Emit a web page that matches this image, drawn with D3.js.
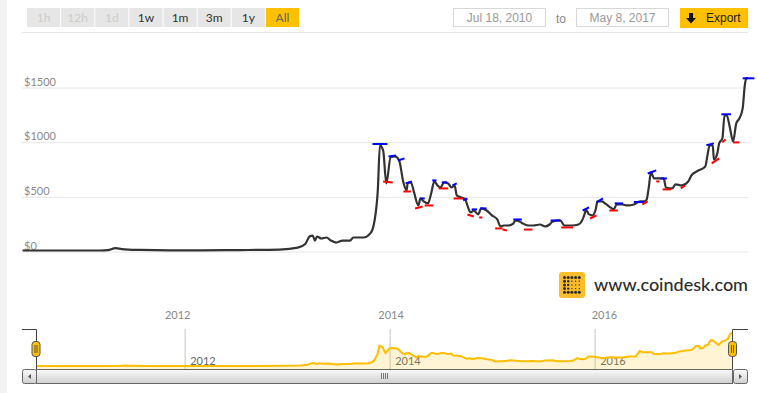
<!DOCTYPE html>
<html>
<head>
<meta charset="utf-8">
<script src="https://cdn.jsdelivr.net/npm/d3@7"></script>
<style>
    html, body { margin: 0; padding: 0; background: #fff; overflow: hidden; }
    svg { display: block; }
    .tick-label { font-family: Lato, sans-serif; font-size: 11px; fill: #8a8a8a; }
    .domain { display: none; }
</style>
</head>
<body>
<svg id="chart" width="757" height="393"></svg>
<script>
const {d3} = window;

const rangeButtons = ["1h", "12h", "1d", "1w", "1m", "3m", "1y", "All"];
const disabledButtons = ["1h", "12h", "1d"];
const activeButton = "All";
const dateFrom = "Jul 18, 2010";
const dateTo = "May 8, 2017";
const firstYear = 2010.545;
const lastYear = 2017.35;

const priceTicks = [0, 500, 1000, 1500];
const yearTicks = [2012, 2014, 2016];

// decimal years
const years = [
    2010.55, 2011.00, 2011.28, 2011.35, 2011.42, 2011.48, 2011.65, 2011.93, 2012.21, 2012.59,
    2012.96, 2013.13, 2013.20, 2013.24, 2013.27, 2013.29, 2013.31, 2013.35, 2013.40, 2013.44,
    2013.49, 2013.55, 2013.62, 2013.65, 2013.75, 2013.79, 2013.83, 2013.85, 2013.88, 2013.90,
    2013.93, 2013.96, 2014.00, 2014.04, 2014.08, 2014.12, 2014.15, 2014.16, 2014.19, 2014.22,
    2014.26, 2014.28, 2014.31, 2014.35, 2014.38, 2014.41, 2014.44, 2014.47, 2014.50, 2014.54,
    2014.57, 2014.60, 2014.62, 2014.66, 2014.70, 2014.72, 2014.75, 2014.78, 2014.82, 2014.85,
    2014.90, 2014.95, 2015.00, 2015.03, 2015.06, 2015.10, 2015.15, 2015.17, 2015.21, 2015.24,
    2015.29, 2015.34, 2015.40, 2015.45, 2015.49, 2015.52, 2015.59, 2015.63, 2015.70, 2015.76,
    2015.79, 2015.82, 2015.83, 2015.86, 2015.89, 2015.92, 2015.94, 2015.98, 2016.01, 2016.06,
    2016.09, 2016.12, 2016.17, 2016.22, 2016.28, 2016.34, 2016.38, 2016.40, 2016.42, 2016.44,
    2016.47, 2016.52, 2016.56, 2016.58, 2016.64, 2016.67, 2016.73, 2016.79, 2016.82, 2016.87,
    2016.95, 2016.97, 2016.99, 2017.02, 2017.03, 2017.06, 2017.08, 2017.11, 2017.13, 2017.15,
    2017.18, 2017.21, 2017.24, 2017.27, 2017.30, 2017.32, 2017.335, 2017.35
];
const prices = [
    9, 9, 9, 13, 30, 22, 14, 10, 11, 13,
    18, 35, 68, 137, 146, 100, 137, 119, 128, 100,
    82, 100, 100, 128, 128, 146, 201, 284, 559, 971,
    925, 623, 861, 870, 833, 632, 559, 623, 632, 540,
    421, 485, 458, 440, 531, 641, 604, 586, 632, 623,
    586, 604, 513, 495, 476, 421, 357, 375, 339, 394,
    375, 330, 293, 229, 238, 238, 256, 284, 275, 256,
    238, 238, 247, 229, 247, 275, 284, 238, 238, 247,
    275, 348, 385, 339, 330, 375, 458, 458, 440, 403,
    385, 430, 430, 421, 430, 458, 458, 476, 586, 723,
    668, 668, 668, 586, 577, 614, 604, 641, 696, 733,
    778, 879, 970, 970, 842, 888, 989, 1035, 1245, 1245,
    1135, 1007, 1172, 1218, 1309, 1520, 1585, 1585
];

// [start year, start price, end year, end price]
const highMarks = [
    [2013.83, 983, 2013.97, 983], [2013.98, 868, 2014.05, 879], [2014.07, 833, 2014.13, 852],
    [2014.14, 623, 2014.20, 641], [2014.28, 485, 2014.32, 485], [2014.39, 650, 2014.43, 650],
    [2014.48, 632, 2014.53, 632], [2014.58, 604, 2014.62, 623], [2014.68, 467, 2014.72, 485],
    [2014.76, 385, 2014.81, 385], [2014.84, 394, 2014.90, 394], [2015.15, 293, 2015.23, 293],
    [2015.50, 284, 2015.59, 284], [2015.80, 375, 2015.86, 403], [2015.93, 449, 2015.99, 485],
    [2016.10, 440, 2016.18, 440], [2016.28, 453, 2016.38, 453], [2016.41, 714, 2016.49, 742],
    [2016.53, 668, 2016.59, 668], [2016.96, 971, 2017.03, 989], [2017.10, 1255, 2017.19, 1255],
    [2017.30, 1584, 2017.41, 1584]
];
const lowMarks = [
    [2013.93, 641, 2014.02, 632], [2014.12, 549, 2014.19, 549], [2014.23, 394, 2014.30, 412],
    [2014.32, 421, 2014.40, 421], [2014.45, 577, 2014.54, 577], [2014.59, 485, 2014.68, 485],
    [2014.72, 339, 2014.78, 320], [2014.83, 311, 2014.86, 311], [2014.98, 211, 2015.05, 211],
    [2015.05, 201, 2015.09, 192], [2015.25, 201, 2015.33, 201], [2015.60, 220, 2015.71, 220],
    [2015.87, 302, 2015.93, 330], [2016.05, 375, 2016.13, 375], [2016.36, 430, 2016.41, 458],
    [2016.49, 641, 2016.52, 641], [2016.55, 568, 2016.63, 568], [2016.72, 577, 2016.76, 604],
    [2017.01, 806, 2017.08, 852], [2017.11, 998, 2017.14, 1026], [2017.21, 998, 2017.27, 998]
];

const series = years.map((year, i) => ({year, price: prices[i]}));

const svg = d3.select("#chart");

// page gutter
svg.append("rect").attr("width", 7).attr("height", 393).attr("fill", "#f2f2f2");

const x = d3.scaleLinear().domain([firstYear, lastYear]).range([22, 748]);
const y = d3.scaleLinear().domain([0, 1500]).range([251.5, 87.5]);
const navX = d3.scaleLinear().domain([firstYear, lastYear]).range([35.5, 733]);
const navY = d3.scaleLinear().domain([0, 1600]).range([366.2, 332.7]);

// range selector
const buttonX = d3.scaleBand().domain(rangeButtons).range([27, 299]).paddingInner(0.03);
const buttons = svg.append("g").selectAll("g")
    .data(rangeButtons)
    .enter()
    .append("g")
    .attr("transform", d => `translate(${buttonX(d)},8)`);

buttons.append("rect")
    .attr("width", buttonX.bandwidth())
    .attr("height", 19)
    .attr("fill", d => d === activeButton ? "#ffc000" : "#e6e6e6");

buttons.append("text")
    .text(d => d)
    .attr("x", buttonX.bandwidth() / 2)
    .attr("y", 14)
    .attr("text-anchor", "middle")
    .style("font-family", "Lato, sans-serif")
    .style("font-size", "12px")
    .attr("fill", d => d === activeButton ? "#666" : disabledButtons.includes(d) ? "#ccc" : "#333");

svg.append("line")
    .attr("x1", 22).attr("x2", 748)
    .attr("y1", 32.5).attr("y2", 32.5)
    .attr("stroke", "#e6e6e6");

// date inputs
[[453.5, dateFrom], [576.5, dateTo]].forEach(([left, label]) => {
    svg.append("rect")
        .attr("x", left).attr("y", 8.5)
        .attr("width", 92).attr("height", 18)
        .attr("fill", "#fff")
        .attr("stroke", "#d8d8d8");
    svg.append("text")
        .text(label)
        .attr("x", left + 46).attr("y", 22)
        .attr("text-anchor", "middle")
        .style("font-family", "'Liberation Sans', Arial, sans-serif")
        .style("font-size", "12px")
        .attr("fill", "#999");
});

svg.append("text")
    .text("to")
    .attr("x", 561).attr("y", 23)
    .attr("text-anchor", "middle")
    .style("font-family", "'Liberation Sans', Arial, sans-serif")
    .style("font-size", "12px")
    .attr("fill", "#888");

// export button
svg.append("rect")
    .attr("x", 680).attr("y", 8)
    .attr("width", 68).attr("height", 20)
    .attr("fill", "#ffc000");
svg.append("path")
    .attr("d", "M689 13h4v5h3l-5 5.5-5-5.5h3z")
    .attr("fill", "#111");
svg.append("text")
    .text("Export")
    .attr("x", 706).attr("y", 22)
    .style("font-family", "'Liberation Sans', Arial, sans-serif")
    .style("font-size", "12px")
    .attr("fill", "#222");

// price grid and labels
const yAxis = svg.append("g")
    .attr("transform", "translate(22,0)")
    .call(d3.axisRight(y).tickValues(priceTicks).tickSize(726).tickFormat(d => `$${d}`));
yAxis.selectAll("line").attr("stroke", "#e6e6e6");
yAxis.selectAll("text")
    .attr("class", "tick-label")
    .attr("x", 2)
    .attr("dy", -2.5)
    .attr("text-anchor", "start");

// year labels under the plot
const xAxis = svg.append("g")
    .attr("transform", "translate(0,319)")
    .call(d3.axisBottom(x).tickValues(yearTicks).tickSize(0).tickFormat(d3.format("d")));
xAxis.selectAll("text").attr("class", "tick-label").attr("y", 0).attr("dy", 0);

// price line
const line = d3.line().x(d => x(d.year)).y(d => y(d.price)).curve(d3.curveMonotoneX);
svg.append("path")
    .datum(series)
    .attr("d", line)
    .attr("fill", "none")
    .attr("stroke", "#333")
    .attr("stroke-width", 2.2)
    .attr("stroke-linejoin", "round");

const appendMarks = (marks, color) => {
    svg.append("g").selectAll("line")
        .data(marks)
        .enter()
        .append("line")
        .attr("x1", d => x(d[0]))
        .attr("y1", d => y(d[1]))
        .attr("x2", d => x(d[2]))
        .attr("y2", d => y(d[3]))
        .attr("stroke", color)
        .attr("stroke-width", 2);
};
appendMarks(highMarks, "#0000ff");
appendMarks(lowMarks, "#ff0000");

// logo
svg.append("rect")
    .attr("x", 559).attr("y", 272)
    .attr("width", 26).attr("height", 26)
    .attr("rx", 3)
    .attr("fill", "#fdbd2b");
const dotRange = d3.range(5);
svg.append("g").selectAll("circle")
    .data(d3.cross(dotRange, dotRange))
    .enter()
    .append("circle")
    .attr("cx", d => 564.5 + d[0] * 3.7)
    .attr("cy", d => 277.5 + d[1] * 3.7)
    .attr("r", d => d[1] === 0 || d[1] === 4 || d[0] === 0 ? 1.5 : d[0] === 1 ? 1.2 : 0.7)
    .attr("fill", "#2a2a2a");
svg.append("text")
    .text("www.coindesk.com")
    .attr("x", 594).attr("y", 291)
    .attr("textLength", 154)
    .style("font-family", "Lato, sans-serif")
    .style("font-size", "18px")
    .style("font-weight", 500)
    .attr("fill", "#2b2b2b");

// navigator
const navGrid = svg.append("g")
    .attr("transform", "translate(0,329)")
    .call(d3.axisBottom(navX).tickValues(yearTicks).tickSize(40).tickFormat(d3.format("d")));
navGrid.selectAll("line").attr("stroke", "#c4c4c4");
navGrid.selectAll("text")
    .attr("class", "tick-label")
    .attr("text-anchor", "start")
    .attr("x", 5)
    .attr("y", 36)
    .attr("dy", 0)
    .style("fill", "#666");

const navArea = d3.area().x(d => navX(d.year)).y0(369).y1(d => navY(d.price));
svg.append("path")
    .datum(series)
    .attr("d", navArea)
    .attr("fill", "#ffbe00")
    .attr("fill-opacity", 0.17);
svg.append("path")
    .datum(series)
    .attr("d", d3.line().x(d => navX(d.year)).y(d => navY(d.price)))
    .attr("fill", "none")
    .attr("stroke", "#ffbe00")
    .attr("stroke-width", 2);

// scrollbar
const defs = svg.append("defs");
const scrollFill = defs.append("linearGradient")
    .attr("id", "scroll-fill")
    .attr("x1", 0).attr("x2", 0)
    .attr("y1", 0).attr("y2", 1);
scrollFill.append("stop").attr("offset", 0).attr("stop-color", "#fafafa");
scrollFill.append("stop").attr("offset", 1).attr("stop-color", "#cfcfcf");

svg.append("rect")
    .attr("x", 36.5).attr("y", 369.5)
    .attr("width", 696).attr("height", 14)
    .attr("fill", "url(#scroll-fill)")
    .attr("stroke", "#666");
[[22.5, "M31 374v5l-3-2.5z"], [733.5, "M739 374v5l3-2.5z"]].forEach(([left, arrow]) => {
    svg.append("rect")
        .attr("x", left).attr("y", 369.5)
        .attr("width", 14).attr("height", 14)
        .attr("rx", 2)
        .attr("fill", "url(#scroll-fill)")
        .attr("stroke", "#666");
    svg.append("path").attr("d", arrow).attr("fill", "#555");
});
svg.append("g").selectAll("line")
    .data(d3.range(4))
    .enter()
    .append("line")
    .attr("x1", d => 381.5 + d * 2).attr("x2", d => 381.5 + d * 2)
    .attr("y1", 373).attr("y2", 379)
    .attr("stroke", "#777");

// navigator window and handles
svg.append("path")
    .attr("d", "M22 329.5H36.5V369M732.5 369V329.5H748")
    .attr("fill", "none")
    .attr("stroke", "#444");
[36, 732.5].forEach(center => {
    svg.append("rect")
        .attr("x", center - 4).attr("y", 341.5)
        .attr("width", 8).attr("height", 15)
        .attr("rx", 3)
        .attr("fill", "#ffbe00")
        .attr("stroke", "#555");
    svg.append("path")
        .attr("d", `M${center - 1} 345v8M${center + 1} 345v8`)
        .attr("stroke", "#555");
});
</script>
</body>
</html>
